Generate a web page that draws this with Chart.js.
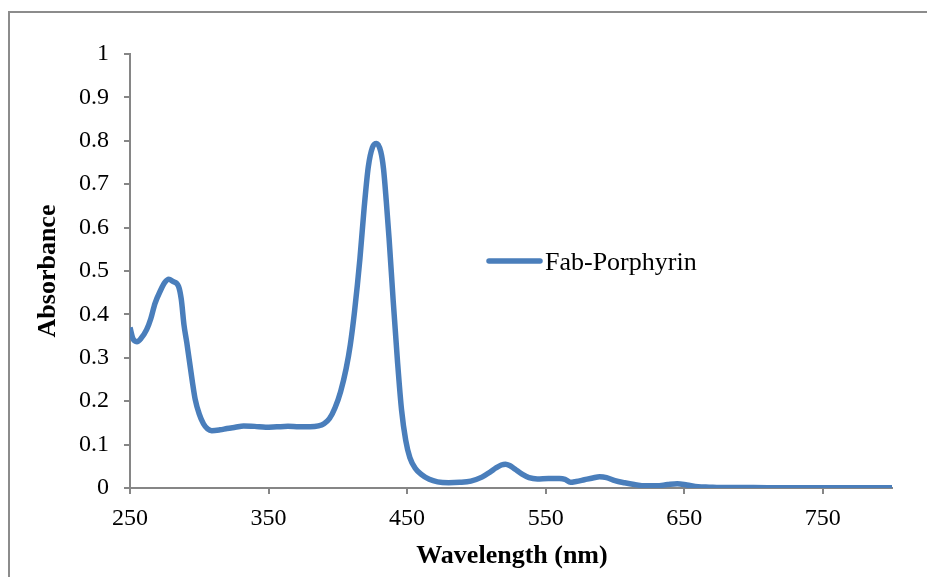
<!DOCTYPE html>
<html>
<head>
<meta charset="utf-8">
<script src="https://cdn.jsdelivr.net/npm/chart.js@4.4.0/dist/chart.umd.min.js"></script>
<style>
  html, body { margin: 0; padding: 0; background: #fff; overflow: hidden; }
  #wrap { position: relative; width: 927px; height: 577px; }
  #frame { position: absolute; left: 8px; top: 11px; width: 1000px; height: 1000px; border: 2px solid #8c8c8c; }
  #chart { position: absolute; left: 0; top: 0; }
</style>
</head>
<body>
<div id="wrap">
  <div id="frame"></div>
  <canvas id="chart" width="927" height="577"></canvas>
</div>
<script>
// wavelength (nm) and absorbance
const wavelengths = [
  250, 252, 255, 258, 262, 265, 268, 272, 275, 278, 281, 285, 287, 289, 291, 293, 295, 297,
  300, 303, 306, 309, 315, 320, 326, 332, 340, 348, 356, 364, 372, 380, 386, 390, 394, 398,
  402, 406, 409, 412, 416, 419, 422, 425, 428, 431, 433, 435, 437, 440, 443, 446, 449, 452,
  456, 460, 466, 472, 480, 488, 496, 504, 510, 514, 518, 521, 524, 528, 533, 538, 544, 552,
  560, 564, 568, 572, 578, 584, 589, 594, 600, 607, 614, 622, 630, 638, 645, 652, 660, 668,
  680, 700, 720, 740, 760, 780, 800
];
const absorbance = [
  0.37, 0.345, 0.337, 0.345, 0.365, 0.39, 0.425, 0.455, 0.473, 0.481, 0.476, 0.465, 0.435, 0.375, 0.335, 0.29, 0.245, 0.205,
  0.17, 0.148, 0.136, 0.132, 0.134, 0.137, 0.14, 0.143, 0.142, 0.14, 0.141, 0.142, 0.141, 0.141, 0.143, 0.148, 0.16, 0.185,
  0.222, 0.275, 0.33, 0.405, 0.53, 0.645, 0.74, 0.785, 0.794, 0.775, 0.735, 0.66, 0.575, 0.43, 0.295, 0.18, 0.11, 0.07,
  0.045, 0.032, 0.02, 0.014, 0.012, 0.013, 0.016, 0.025, 0.037, 0.046, 0.053, 0.055, 0.052, 0.043, 0.032, 0.024, 0.021, 0.022,
  0.022, 0.02, 0.013, 0.015, 0.019, 0.023, 0.026, 0.024, 0.017, 0.012, 0.008, 0.005, 0.005, 0.008, 0.01, 0.007, 0.003, 0.002,
  0.001, 0.001, 0.0005, 0.0005, 0.0005, 0.0003, 0.0003
];
const xTicks = [250, 350, 450, 550, 650, 750];
const yTicks = [0, 0.1, 0.2, 0.3, 0.4, 0.5, 0.6, 0.7, 0.8, 0.9, 1];
const seriesName = "Fab-Porphyrin";
const xTitle = "Wavelength (nm)";
const yTitle = "Absorbance";

const axisColor = "#868686";
const lineColor = "#4a7ebb";
const serif = "'Liberation Serif', 'Times New Roman', serif";

// axis titles and the legend sit at fixed spots, so draw them by hand
const extras = {
  id: "extras",
  afterDraw(chart) {
    const ctx = chart.ctx;
    ctx.save();
    ctx.fillStyle = "#000";
    ctx.font = "bold 26px " + serif;
    ctx.textAlign = "center";
    ctx.textBaseline = "middle";
    ctx.fillText(xTitle, 512, 556);
    ctx.translate(48, 271);
    ctx.rotate(-Math.PI / 2);
    ctx.fillText(yTitle, 0, 0);
    ctx.restore();

    ctx.save();
    ctx.strokeStyle = chart.data.datasets[0].borderColor;
    ctx.lineWidth = 5.5;
    ctx.lineCap = "round";
    ctx.beginPath();
    ctx.moveTo(489, 261);
    ctx.lineTo(540, 261);
    ctx.stroke();
    ctx.fillStyle = "#000";
    ctx.font = "26px " + serif;
    ctx.textAlign = "left";
    ctx.textBaseline = "middle";
    ctx.fillText(chart.data.datasets[0].label, 545, 263);
    ctx.restore();
  }
};

new Chart(document.getElementById("chart"), {
  type: "line",
  data: {
    datasets: [
      {
        label: seriesName,
        data: wavelengths.map((w, i) => ({ x: w, y: absorbance[i] })),
        borderColor: lineColor,
        borderWidth: 5.5,
        pointRadius: 0,
        cubicInterpolationMode: "monotone",
        fill: false,
      },
    ],
  },
  options: {
    responsive: false,
    animation: false,
    layout: { padding: { top: 54, right: 35, left: 0, bottom: 0 } },
    plugins: { legend: { display: false }, tooltip: { enabled: false } },
    scales: {
      x: {
        type: "linear",
        min: 250,
        max: 800,
        afterBuildTicks: (scale) => { scale.ticks = xTicks.map((v) => ({ value: v })); },
        afterFit: (scale) => { scale.height = 89; },
        ticks: { color: "#000", font: { family: serif, size: 24 }, padding: 10, maxRotation: 0, callback: (v) => String(v) },
        grid: { drawOnChartArea: false, color: axisColor, tickLength: 6, lineWidth: 2 },
        border: { color: axisColor, width: 2 },
      },
      y: {
        min: 0,
        max: 1,
        afterBuildTicks: (scale) => { scale.ticks = yTicks.map((v) => ({ value: v })); },
        afterFit: (scale) => { scale.width = 130; },
        ticks: { color: "#000", font: { family: serif, size: 24 }, padding: 15, callback: (v) => String(v) },
        grid: { drawOnChartArea: false, color: axisColor, tickLength: 6, lineWidth: 2 },
        border: { color: axisColor, width: 2 },
      },
    },
  },
  plugins: [extras],
});
</script>
</body>
</html>
